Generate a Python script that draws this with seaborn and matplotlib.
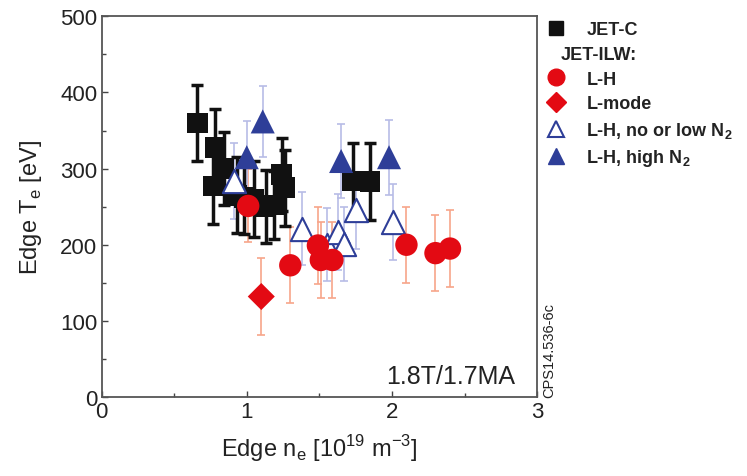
import matplotlib
matplotlib.use("Agg")
import matplotlib.pyplot as plt
from matplotlib.lines import Line2D
from matplotlib.ticker import MultipleLocator
import seaborn as sns
import pandas as pd

# JET-C (black squares)
jetc_ne = [0.66, 0.78, 0.84, 0.77, 0.93, 0.98, 1.05, 1.13, 1.19, 1.24, 1.26, 1.73, 1.85]
jetc_te = [360, 328, 300, 277, 265, 262, 260, 250, 252, 292, 275, 284, 283]
jetc_err = [50, 50, 48, 50, 50, 48, 50, 48, 45, 48, 50, 50, 50]

# JET-ILW L-H (red circles)
lh_ne = [1.01, 1.30, 1.49, 1.51, 1.59, 2.10, 2.30, 2.40]
lh_te = [251, 173, 199, 180, 180, 200, 189, 195]
lh_err = [48, 50, 50, 50, 50, 50, 50, 50]

# JET-ILW L-mode (red diamond)
lm_ne = [1.10]
lm_te = [132]
lm_err = [50]

# JET-ILW L-H, no or low N2 (open triangles)
low_ne = [0.91, 1.38, 1.55, 1.63, 1.67, 1.75, 2.01]
low_te = [284, 221, 200, 217, 201, 245, 230]
low_err = [50, 48, 48, 50, 48, 50, 50]

# JET-ILW L-H, high N2 (filled triangles)
high_ne = [1.11, 1.00, 1.65, 1.98]
high_te = [362, 315, 310, 315]
high_err = [47, 48, 48, 49]

RED = "#E30A13"
RED_ERR = "#F7A58A"
BLUE = "#2E3E98"
BLUE_ERR = "#B7BCE6"

sns.set_style("ticks")
plt.rcParams["font.family"] = ["Liberation Sans", "DejaVu Sans"]

fig = plt.figure(figsize=(7.47, 4.77), dpi=100)
ax = fig.add_axes([0.136, 0.1656, 0.583, 0.798])

# error bars
ax.errorbar(lh_ne, lh_te, yerr=lh_err, fmt="none", ecolor=RED_ERR, elinewidth=1.2, capsize=3, capthick=1.2, zorder=1)
ax.errorbar(lm_ne, lm_te, yerr=lm_err, fmt="none", ecolor=RED_ERR, elinewidth=1.2, capsize=3, capthick=1.2, zorder=1)
ax.errorbar(low_ne, low_te, yerr=low_err, fmt="none", ecolor=BLUE_ERR, elinewidth=1.2, capsize=3, capthick=1.2, zorder=1)
ax.errorbar(high_ne, high_te, yerr=high_err, fmt="none", ecolor=BLUE_ERR, elinewidth=1.2, capsize=3, capthick=1.2, zorder=1)
ax.errorbar(jetc_ne, jetc_te, yerr=jetc_err, fmt="none", ecolor="#111111", elinewidth=2.5, capsize=4, capthick=2.5, zorder=2)

df_c = pd.DataFrame({"ne": jetc_ne, "te": jetc_te})
df_lh = pd.DataFrame({"ne": lh_ne, "te": lh_te})
df_lm = pd.DataFrame({"ne": lm_ne, "te": lm_te})
df_low = pd.DataFrame({"ne": low_ne, "te": low_te})
df_high = pd.DataFrame({"ne": high_ne, "te": high_te})

sns.scatterplot(data=df_c, x="ne", y="te", marker="s", s=220, color="#111111", edgecolor="none", ax=ax, zorder=3)
sns.scatterplot(data=df_high, x="ne", y="te", marker="^", s=300, color=BLUE, edgecolor="none", ax=ax, zorder=4)
sns.scatterplot(data=df_low, x="ne", y="te", marker="^", s=280, facecolor="white", edgecolor=BLUE, linewidth=1.5, ax=ax, zorder=4)
sns.scatterplot(data=df_lh, x="ne", y="te", marker="o", s=260, color=RED, edgecolor="none", ax=ax, zorder=5)
sns.scatterplot(data=df_lm, x="ne", y="te", marker="D", s=190, color=RED, edgecolor="none", ax=ax, zorder=5)

ax.set_xlim(0, 3)
ax.set_ylim(0, 500)
ax.xaxis.set_major_locator(MultipleLocator(1))
ax.xaxis.set_minor_locator(MultipleLocator(0.5))
ax.yaxis.set_major_locator(MultipleLocator(100))
ax.yaxis.set_minor_locator(MultipleLocator(50))
ax.tick_params(which="both", direction="in", top=False, right=False, color="#444444")
ax.tick_params(which="major", length=4, width=1, labelsize=16, pad=3, labelcolor="#222222")
ax.tick_params(which="minor", length=3, width=1)
for s in ax.spines.values():
    s.set_visible(True)
    s.set_color("#555555")
    s.set_linewidth(1.3)

ax.set_xlabel("Edge n$_\\mathregular{e}$ [10$^{\\mathregular{19}}$ m$^{\\mathregular{-3}}$]", fontsize=17, labelpad=7, color="#222222")
ax.set_ylabel("Edge T$_\\mathregular{e}$ [eV]", fontsize=17, labelpad=12, color="#222222")

ax.text(2.85, 27, "1.8T/1.7MA", ha="right", va="center", fontsize=18, color="#222222")
fig.text(0.735, 0.165, "CPS14.536-6c", rotation=90, ha="center", va="bottom", fontsize=10.5, color="#222222")

handles = [
    Line2D([], [], ls="none", marker="s", ms=10, color="#111111"),
    Line2D([], [], ls="none", marker=None),
    Line2D([], [], ls="none", marker="o", ms=12, color=RED),
    Line2D([], [], ls="none", marker="D", ms=10, color=RED),
    Line2D([], [], ls="none", marker="^", ms=12, markerfacecolor="white", markeredgecolor=BLUE, markeredgewidth=1.5),
    Line2D([], [], ls="none", marker="^", ms=12, color=BLUE),
]
labels = ["JET-C", "JET-ILW:", "L-H", "L-mode",
          "L-H, no or low N$_\\mathregular{2}$", "L-H, high N$_\\mathregular{2}$"]
leg = fig.legend(handles, labels, loc="upper left", bbox_to_anchor=(0.722, 0.968),
                 frameon=False, fontsize=13, handlelength=1.0, handletextpad=1.2,
                 labelspacing=0.42, borderaxespad=0)
for t in leg.get_texts():
    t.set_fontweight("bold")
    t.set_color("#222222")
# shift header left
leg.get_texts()[1].set_x(-26)

fig.savefig("out.png", dpi=100)
